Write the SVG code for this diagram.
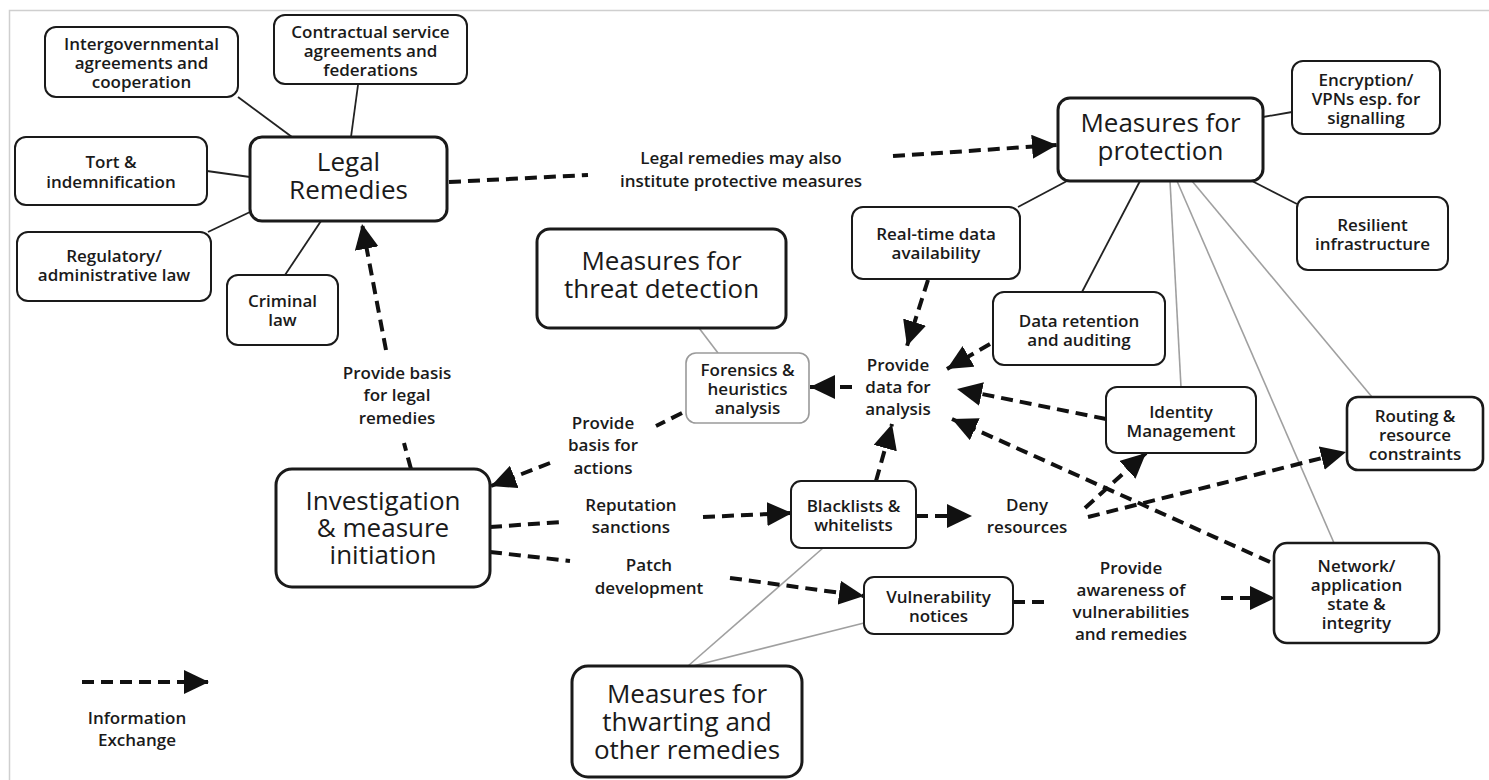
<svg xmlns="http://www.w3.org/2000/svg" width="1489" height="780" viewBox="0 0 1489 780">
<defs>
<marker id="ah" markerUnits="userSpaceOnUse" markerWidth="26" markerHeight="24" refX="25" refY="12" orient="auto">
<path d="M0,0 L25,12 L0,24 z" fill="#111"/>
</marker>
<style>
.n rect{fill:#fff;stroke:#1a1a1a;stroke-width:2}
.n.big rect{stroke-width:3}
.n.med rect{stroke-width:2.6}
.n.gray rect{stroke:#9a9a9a;stroke-width:1.6}
text{font-family:"Open Sans","Liberation Sans",sans-serif;fill:#1a1a1a;text-anchor:middle}
.s{font-size:17px;font-weight:600}
.b{font-size:26px;font-weight:400}
.solid{stroke:#222;stroke-width:1.8;fill:none}
.grey{stroke:#a0a0a0;stroke-width:1.6;fill:none}
.dash{stroke:#111;stroke-width:4;stroke-dasharray:12 7;fill:none}
.arr{marker-end:url(#ah)}
</style>
</defs>
<rect x="0" y="0" width="1489" height="780" fill="#fff"/>
<path d="M9.5,780 V10.5 H1489" fill="none" stroke="#cfcfcf" stroke-width="1.5"/>

<g id="connectors">
<line class="solid" x1="238" y1="97" x2="292" y2="137"/>
<line class="solid" x1="358" y1="85" x2="351" y2="137"/>
<line class="solid" x1="207" y1="171" x2="250" y2="177"/>
<line class="solid" x1="208" y1="232" x2="250" y2="212"/>
<line class="solid" x1="285" y1="275" x2="321" y2="221"/>
<line class="solid" x1="1263" y1="117" x2="1292" y2="112"/>
<line class="solid" x1="1252" y1="181" x2="1297" y2="204"/>
<line class="solid" x1="1018" y1="207" x2="1067" y2="181"/>
<line class="solid" x1="1082" y1="292" x2="1140" y2="181"/>
<line class="grey" x1="699" y1="328" x2="718" y2="353"/>
<line class="grey" x1="1170" y1="181" x2="1181" y2="387"/>
<line class="grey" x1="1177" y1="181" x2="1334" y2="543"/>
<line class="grey" x1="1192" y1="181" x2="1372" y2="397"/>
<line class="grey" x1="688" y1="666" x2="823" y2="548"/>
<line class="grey" x1="693" y1="666" x2="864" y2="623"/>

<line class="dash" x1="449" y1="182" x2="588" y2="175"/>
<line class="dash arr" x1="893" y1="156" x2="1057" y2="145"/>
<line class="dash" x1="411" y1="469" x2="404" y2="443"/>
<line class="dash arr" x1="386" y1="350" x2="362" y2="224"/>
<line class="dash" x1="682" y1="413" x2="656" y2="426"/>
<line class="dash arr" x1="550" y1="463" x2="491" y2="486"/>
<line class="dash" x1="490" y1="527" x2="562" y2="522"/>
<line class="dash arr" x1="703" y1="517" x2="792" y2="513"/>
<line class="dash" x1="490" y1="552" x2="570" y2="561"/>
<line class="dash arr" x1="730" y1="578" x2="864" y2="596"/>
<line class="dash arr" x1="876" y1="481" x2="892" y2="424"/>
<line class="dash arr" x1="916" y1="516" x2="972" y2="516"/>
<line class="dash arr" x1="852" y1="387" x2="810" y2="387"/>
<line class="dash arr" x1="928" y1="280" x2="907" y2="346"/>
<line class="dash arr" x1="990" y1="344" x2="947" y2="369"/>
<line class="dash arr" x1="1106" y1="419" x2="957" y2="389"/>
<line class="dash arr" x1="1270" y1="562" x2="952" y2="419"/>
<line class="dash arr" x1="1085" y1="508" x2="1146" y2="453"/>
<line class="dash arr" x1="1088" y1="517" x2="1346" y2="452"/>
<line class="dash" x1="1013" y1="602" x2="1050" y2="602"/>
<line class="dash arr" x1="1221" y1="598" x2="1275" y2="598"/>
<line class="dash arr" x1="82" y1="682" x2="209" y2="682"/>

<text class="s" x="741" y="164">Legal remedies may also</text>
<text class="s" x="741" y="187">institute protective measures</text>
<text class="s" x="397" y="379">Provide basis</text>
<text class="s" x="397" y="401">for legal</text>
<text class="s" x="397" y="424">remedies</text>
<text class="s" x="603" y="429">Provide</text>
<text class="s" x="603" y="451">basis for</text>
<text class="s" x="603" y="474">actions</text>
<text class="s" x="631" y="511">Reputation</text>
<text class="s" x="631" y="533">sanctions</text>
<text class="s" x="649" y="571">Patch</text>
<text class="s" x="649" y="594">development</text>
<text class="s" x="898" y="371">Provide</text>
<text class="s" x="898" y="393">data for</text>
<text class="s" x="898" y="415">analysis</text>
<text class="s" x="1027" y="511">Deny</text>
<text class="s" x="1027" y="533">resources</text>
<text class="s" x="1131" y="574">Provide</text>
<text class="s" x="1131" y="596">awareness of</text>
<text class="s" x="1131" y="618">vulnerabilities</text>
<text class="s" x="1131" y="640">and remedies</text>
<text class="s" x="137" y="724">Information</text>
<text class="s" x="137" y="746">Exchange</text>
</g>

<g id="intergov" class="n"><rect x="45" y="27" width="193" height="70" rx="11"/>
<text class="s" x="141.5" y="50">Intergovernmental</text><text class="s" x="141.5" y="69">agreements and</text><text class="s" x="141.5" y="88">cooperation</text></g>
<g id="contractual" class="n"><rect x="274" y="15" width="193" height="69" rx="11"/>
<text class="s" x="370.5" y="38">Contractual service</text><text class="s" x="370.5" y="57">agreements and</text><text class="s" x="370.5" y="76">federations</text></g>
<g id="legal" class="n big"><rect x="250" y="137" width="197" height="84" rx="12"/>
<text class="b" x="348.5" y="171">Legal</text><text class="b" x="348.5" y="199">Remedies</text></g>
<g id="tort" class="n"><rect x="15" y="137" width="192" height="68" rx="11"/>
<text class="s" x="111" y="168">Tort &amp;</text><text class="s" x="111" y="188">indemnification</text></g>
<g id="regulatory" class="n"><rect x="17" y="232" width="194" height="69" rx="11"/>
<text class="s" x="114" y="262">Regulatory/</text><text class="s" x="114" y="281">administrative law</text></g>
<g id="criminal" class="n"><rect x="227" y="275" width="111" height="70" rx="11"/>
<text class="s" x="282.5" y="307">Criminal</text><text class="s" x="282.5" y="326">law</text></g>
<g id="protection" class="n big"><rect x="1058" y="98" width="205" height="83" rx="12"/>
<text class="b" x="1160.5" y="132">Measures for</text><text class="b" x="1160.5" y="160">protection</text></g>
<g id="encryption" class="n"><rect x="1292" y="61" width="148" height="73" rx="11"/>
<text class="s" x="1366" y="86">Encryption/</text><text class="s" x="1366" y="105">VPNs esp. for</text><text class="s" x="1366" y="124">signalling</text></g>
<g id="resilient" class="n"><rect x="1297" y="197" width="151" height="73" rx="11"/>
<text class="s" x="1372.5" y="231">Resilient</text><text class="s" x="1372.5" y="250">infrastructure</text></g>
<g id="realtime" class="n"><rect x="852" y="207" width="168" height="72" rx="11"/>
<text class="s" x="936" y="240">Real-time data</text><text class="s" x="936" y="259">availability</text></g>
<g id="dataretention" class="n"><rect x="993" y="292" width="172" height="73" rx="11"/>
<text class="s" x="1079" y="327">Data retention</text><text class="s" x="1079" y="346">and auditing</text></g>
<g id="threat" class="n big"><rect x="537" y="229" width="249" height="99" rx="13"/>
<text class="b" x="661.5" y="270">Measures for</text><text class="b" x="661.5" y="298">threat detection</text></g>
<g id="forensics" class="n gray"><rect x="686" y="353" width="123" height="70" rx="10"/>
<text class="s" x="747.5" y="376">Forensics &amp;</text><text class="s" x="747.5" y="395">heuristics</text><text class="s" x="747.5" y="414">analysis</text></g>
<g id="identity" class="n"><rect x="1106" y="387" width="150" height="66" rx="11"/>
<text class="s" x="1181" y="418">Identity</text><text class="s" x="1181" y="437">Management</text></g>
<g id="routing" class="n med"><rect x="1347" y="397" width="136" height="73" rx="11"/>
<text class="s" x="1415" y="422">Routing &amp;</text><text class="s" x="1415" y="441">resource</text><text class="s" x="1415" y="460">constraints</text></g>
<g id="blacklists" class="n"><rect x="791" y="481" width="125" height="67" rx="10"/>
<text class="s" x="853.5" y="512">Blacklists &amp;</text><text class="s" x="853.5" y="531">whitelists</text></g>
<g id="network" class="n med"><rect x="1274" y="543" width="165" height="100" rx="13"/>
<text class="s" x="1356.5" y="572">Network/</text><text class="s" x="1356.5" y="591">application</text><text class="s" x="1356.5" y="610">state &amp;</text><text class="s" x="1356.5" y="629">integrity</text></g>
<g id="vulnerability" class="n"><rect x="864" y="577" width="149" height="57" rx="10"/>
<text class="s" x="938.5" y="603">Vulnerability</text><text class="s" x="938.5" y="622">notices</text></g>
<g id="investigation" class="n big"><rect x="276" y="469" width="214" height="118" rx="16"/>
<text class="b" x="383" y="510">Investigation</text><text class="b" x="383" y="537">&amp; measure</text><text class="b" x="383" y="564">initiation</text></g>
<g id="thwarting" class="n big"><rect x="572" y="666" width="230" height="111" rx="16"/>
<text class="b" x="687" y="703">Measures for</text><text class="b" x="687" y="731">thwarting and</text><text class="b" x="687" y="759">other remedies</text></g>
</svg>
